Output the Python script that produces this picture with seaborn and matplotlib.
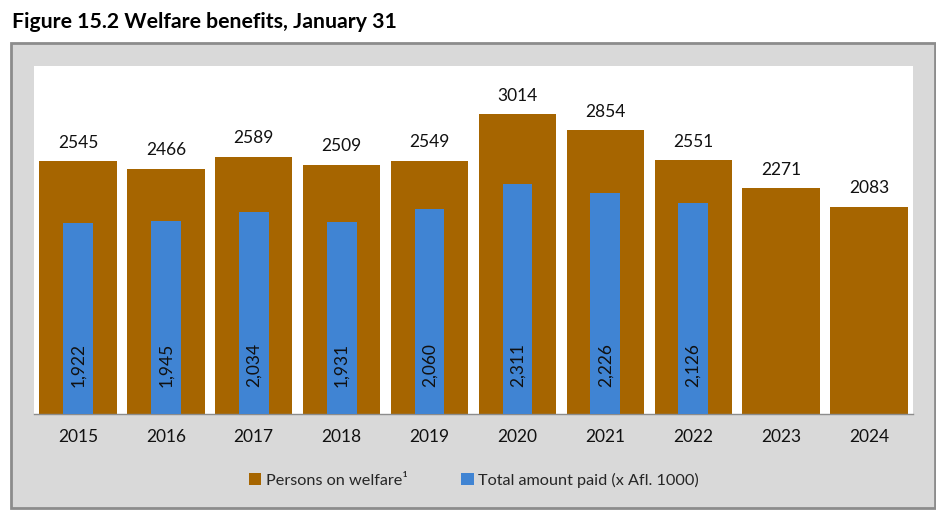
import matplotlib
matplotlib.use("Agg")
import matplotlib.pyplot as plt
import seaborn as sns
import numpy as np
import pandas as pd
from matplotlib.patches import Rectangle, Patch
from matplotlib.ticker import FixedLocator

years = ["2015", "2016", "2017", "2018", "2019", "2020", "2021", "2022", "2023", "2024"]
persons = [2545, 2466, 2589, 2509, 2549, 3014, 2854, 2551, 2271, 2083]
amount = [1922, 1945, 2034, 1931, 2060, 2311, 2226, 2126, np.nan, np.nan]

BROWN = "#A66500"
BLUE = "#4084D3"
GRAY_BG = "#D9D9D9"
EDGE = "#8C8C8C"

sns.set_theme(style="white")
plt.rcParams["font.family"] = ["Lato", "DejaVu Sans"]

df = pd.DataFrame({"year": years, "persons": persons, "amount": amount})

fig = plt.figure(figsize=(9.37, 5.11), dpi=100)
fig.patch.set_facecolor("white")
fig.patches.append(Rectangle((11 / 937, 3 / 511), 924 / 937, 465 / 511,
                             transform=fig.transFigure, facecolor=GRAY_BG,
                             edgecolor=EDGE, linewidth=2, zorder=0))

ax = fig.add_axes([34 / 937, 1 - 414 / 511, 879 / 937, 348 / 511])
ax.set_zorder(5)
ax.set_facecolor("white")

sns.barplot(data=df, x="year", y="persons", order=years, color=BROWN,
            width=0.88, saturation=1, linewidth=0, edgecolor="none", ax=ax, zorder=2)
sns.barplot(data=df, x="year", y="amount", order=years, color=BLUE,
            width=0.34, saturation=1, linewidth=0, edgecolor="none", ax=ax, zorder=3)

ax.set_ylim(0, 3500)
ax.set_xlim(-0.5, len(years) - 0.5)
ax.set_xlabel("")
ax.set_ylabel("")
ax.set_yticks([])

NUM_FS = 12.5
for i, v in enumerate(persons):
    ax.annotate(f"{v}", (i, v), xytext=(0, 7.5), textcoords="offset points",
                ha="center", va="bottom", fontsize=NUM_FS, color="#111111")
for i, v in enumerate(amount):
    if not np.isnan(v):
        ax.annotate(f"{int(v):,}", (i, 0), xytext=(0, 19.5), textcoords="offset points",
                    ha="center", va="bottom", rotation=90, fontsize=NUM_FS, color="#111111")

for s in ["top", "left", "right"]:
    ax.spines[s].set_visible(False)
ax.spines["bottom"].set_color(EDGE)
ax.spines["bottom"].set_linewidth(1)

ax.tick_params(axis="x", which="major", length=0, labelsize=NUM_FS, pad=11, colors="#111111")
ax.xaxis.set_minor_locator(FixedLocator(np.arange(-0.5, len(years), 1.0)))
ax.tick_params(axis="x", which="minor", length=6, width=1, color=EDGE, direction="out")

fig.text(12 / 937, 1 - 22 / 511, "Figure 15.2 Welfare benefits, January 31",
         fontsize=15.3, fontweight="bold", ha="left", va="center", color="black")

handles = [Patch(facecolor=BROWN, edgecolor="none", label="Persons on welfare\u00b9"),
           Patch(facecolor=BLUE, edgecolor="none", label="Total amount paid (x Afl. 1000)")]
fig.legend(handles=handles, loc="center", bbox_to_anchor=(474 / 937, 1 - 480 / 511),
           ncol=2, frameon=False, fontsize=11.7, handlelength=0.75, handleheight=0.75,
           handletextpad=0.3, columnspacing=3.3)

fig.savefig("out.png", dpi=100, facecolor="white")
